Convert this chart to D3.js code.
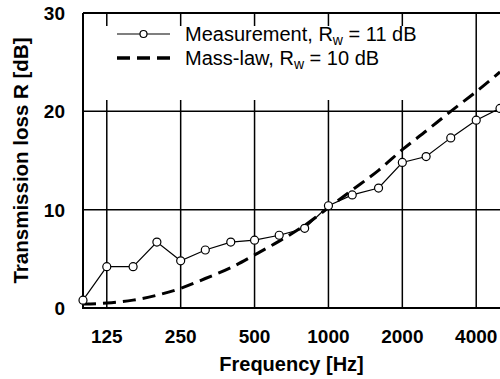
<!DOCTYPE html>
<html>
<head>
<meta charset="utf-8">
<script src="https://cdn.jsdelivr.net/npm/d3@7"></script>
<style>
  body { margin: 0; background: #fff; }
  text { font-family: "Liberation Sans", Arial, sans-serif; }
</style>
</head>
<body>
<svg id="chart"></svg>
<script>
// 1/3-octave band centre frequencies
const freqs = [100, 125, 160, 200, 250, 315, 400, 500, 630, 800, 1000, 1250, 1600, 2000, 2500, 3150, 4000, 5000];
const measured = [0.8, 4.2, 4.2, 6.7, 4.8, 5.9, 6.7, 6.9, 7.4, 8.1, 10.4, 11.5, 12.2, 14.8, 15.4, 17.3, 19.1, 20.3];
const massLaw = [0.4, 0.5, 0.8, 1.3, 2.0, 3.0, 4.1, 5.4, 6.8, 8.4, 10.2, 12.0, 14.0, 16.1, 18.0, 20.0, 22.0, 24.0];
const xTicks = [125, 250, 500, 1000, 2000, 4000];
const yTicks = [0, 10, 20, 30];

const width = 500, height = 379;
const margin = { top: 13, right: 0, bottom: 71, left: 83 };

const svg = d3.select('#chart').attr('width', width).attr('height', height);

const x = d3.scaleLog().domain([100, 5000]).range([margin.left, width - margin.right]);
const y = d3.scaleLinear().domain([0, 30]).range([height - margin.bottom, margin.top]);

//GRID
svg.append('g')
  .selectAll('line')
  .data(xTicks)
  .join('line')
  .attr('x1', (d) => x(d)).attr('x2', (d) => x(d))
  .attr('y1', y(0)).attr('y2', y(30))
  .attr('stroke', '#000')
  .attr('stroke-width', 1.5);

svg.append('g')
  .selectAll('line')
  .data(yTicks.filter((d) => d > 0 && d < 30))
  .join('line')
  .attr('x1', x(100)).attr('x2', width)
  .attr('y1', (d) => y(d)).attr('y2', (d) => y(d))
  .attr('stroke', '#000')
  .attr('stroke-width', 1.5);

//LEGEND BOX (white, covers grid)
svg.append('rect')
  .attr('x', 95).attr('y', 26)
  .attr('width', 335).attr('height', 74)
  .attr('fill', '#fff');

//FRAME
svg.append('path')
  .attr('d', `M${x(100)},${y(30)}H${width}M${x(100)},${y(30)}V${y(0)}H${width}`)
  .attr('fill', 'none')
  .attr('stroke', '#000')
  .attr('stroke-width', 2);

//AXIS LABELS
svg.append('g')
  .selectAll('text')
  .data(xTicks)
  .join('text')
  .attr('x', (d) => x(d))
  .attr('y', 343)
  .attr('text-anchor', 'middle')
  .attr('font-size', '19px')
  .attr('font-weight', 'bold')
  .text((d) => d);

svg.append('g')
  .selectAll('text')
  .data(yTicks)
  .join('text')
  .attr('x', 65)
  .attr('y', (d) => y(d) + 7)
  .attr('text-anchor', 'end')
  .attr('font-size', '19px')
  .attr('font-weight', 'bold')
  .text((d) => d);

svg.append('text')
  .attr('x', (x(100) + width) / 2)
  .attr('y', 371)
  .attr('text-anchor', 'middle')
  .attr('font-size', '20px')
  .attr('font-weight', 'bold')
  .text('Frequency [Hz]');

svg.append('text')
  .attr('transform', `translate(28,${(y(0) + y(30)) / 2}) rotate(-90)`)
  .attr('text-anchor', 'middle')
  .attr('font-size', '20.5px')
  .attr('font-weight', 'bold')
  .text('Transmission loss R [dB]');

//SERIES
const line = d3.line().x((d) => x(d[0])).y((d) => y(d[1]));

svg.append('path')
  .datum(d3.zip(freqs, massLaw))
  .attr('d', line.curve(d3.curveMonotoneX))
  .attr('fill', 'none')
  .attr('stroke', '#000')
  .attr('stroke-width', 3)
  .attr('stroke-dasharray', '13,7');

svg.append('path')
  .datum(d3.zip(freqs, measured))
  .attr('d', d3.line().x((d) => x(d[0])).y((d) => y(d[1])))
  .attr('fill', 'none')
  .attr('stroke', '#000')
  .attr('stroke-width', 1.2);

svg.append('g')
  .selectAll('circle')
  .data(d3.zip(freqs, measured))
  .join('circle')
  .attr('cx', (d) => x(d[0]))
  .attr('cy', (d) => y(d[1]))
  .attr('r', 4)
  .attr('fill', '#fff')
  .attr('stroke', '#000')
  .attr('stroke-width', 1.2);

//LEGEND
const legend = svg.append('g');
legend.append('line')
  .attr('x1', 117).attr('x2', 170).attr('y1', 34).attr('y2', 34)
  .attr('stroke', '#000').attr('stroke-width', 1.2);
legend.append('circle')
  .attr('cx', 143.5).attr('cy', 34).attr('r', 3.5)
  .attr('fill', '#fff').attr('stroke', '#000').attr('stroke-width', 1.2);
legend.append('line')
  .attr('x1', 117).attr('x2', 170).attr('y1', 58).attr('y2', 58)
  .attr('stroke', '#000').attr('stroke-width', 3.5)
  .attr('stroke-dasharray', '13,7');

const labels = [['Measurement, R', '11'], ['Mass-law, R', '10']];
labels.forEach(([name, rw], i) => {
  const t = legend.append('text')
    .attr('x', 185).attr('y', 41 + i * 24)
    .attr('font-size', '20px');
  t.append('tspan').text(name);
  t.append('tspan').attr('font-size', '14px').attr('dy', 4).text('w');
  t.append('tspan').attr('dy', -4).text(` = ${rw} dB`);
});
</script>
</body>
</html>
